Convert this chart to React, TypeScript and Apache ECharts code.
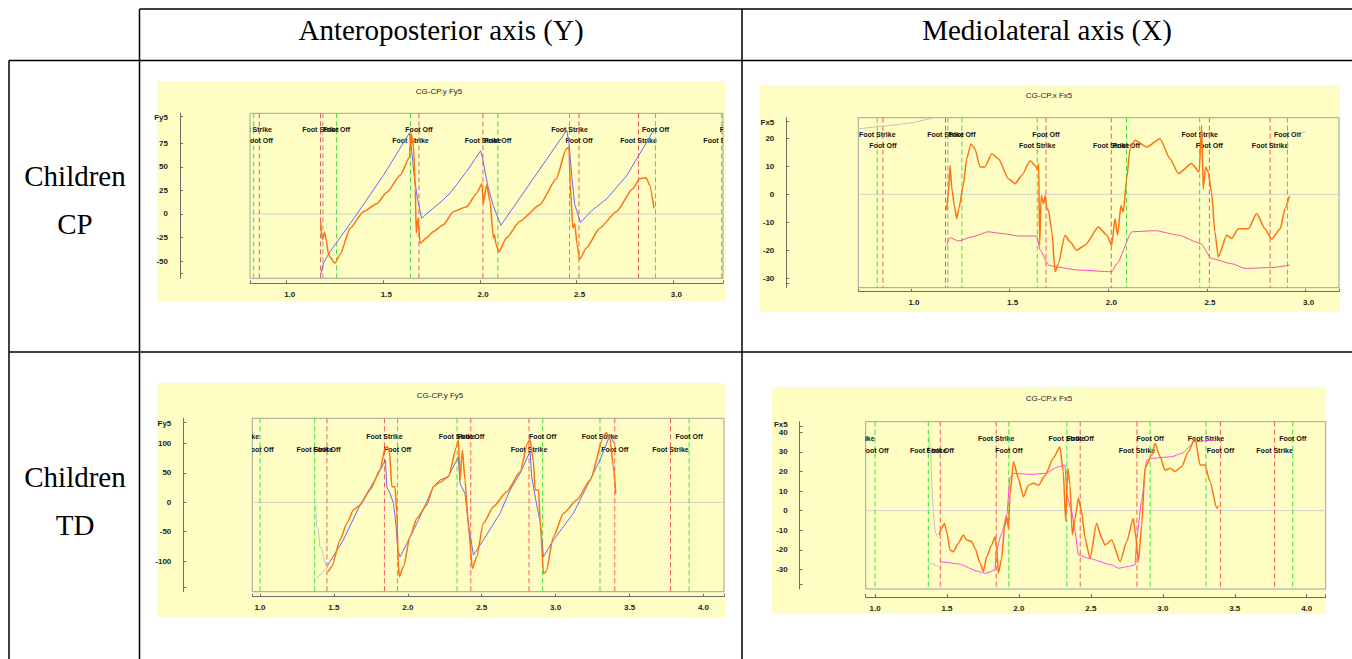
import React, { useEffect, useRef } from "react";
import * as echarts from "echarts";

// ---------- Header texts ----------
const colHeaders = ["Anteroposterior axis (Y)", "Mediolateral axis (X)"];
const rowHeaders = [["Children", "CP"], ["Children", "TD"]];
const panelTitles = ["CG-CP.y Fy5", "CG-CP.x Fx5", "CG-CP.y Fy5", "CG-CP.x Fx5"];
const axisNames = ["Fy5", "Fx5", "Fy5", "Fx5"];

// ---------- Gait events ----------
const cpEventTimes = [0.829, 0.858, 1.175, 1.187, 1.258, 1.64, 1.684, 2.015, 2.092, 2.463, 2.512, 2.82, 2.908, 3.25, 3.31];
const cpEventSides = ["G", "R", "R", "K", "G", "G", "R", "R", "G", "G", "R", "R", "G", "G", "R"];
const cpEventLabels = ["Foot Strike", "Foot Off", "Foot Strike", "", "Foot Off", "Foot Strike", "Foot Off", "Foot Strike", "Foot Off", "Foot Strike", "Foot Off", "Foot Strike", "Foot Off", "Foot Strike", "Foot Off"];
const cpEventRows = [1, 2, 1, 0, 1, 2, 1, 2, 2, 1, 2, 2, 1, 2, 1];

const tdEventTimes = [0.87, 1.0, 1.37, 1.453, 1.842, 1.93, 2.333, 2.426, 2.82, 2.912, 3.3, 3.4, 3.777, 3.903];
const tdEventSides = ["R", "G", "G", "R", "R", "G", "G", "R", "R", "G", "G", "R", "R", "G"];
const tdEventLabels = ["Foot Strike", "Foot Off", "Foot Strike", "Foot Off", "Foot Strike", "Foot Off", "Foot Strike", "Foot Off", "Foot Strike", "Foot Off", "Foot Strike", "Foot Off", "Foot Strike", "Foot Off"];
const tdEventRows = [1, 2, 2, 2, 1, 2, 1, 1, 2, 1, 1, 2, 2, 1];

// ---------- Tick values ----------
const xTicksCP = [1.0, 1.5, 2.0, 2.5, 3.0];
const xTicksTD = [1.0, 1.5, 2.0, 2.5, 3.0, 3.5, 4.0];
const yTicksCPap = [-50, -25, 0, 25, 50, 75];
const yTicksCPml = [-30, -20, -10, 0, 10, 20];
const yTicksTDap = [-100, -50, 0, 50, 100];
const yTicksTDml = [-30, -20, -10, 0, 10, 20, 30, 40];

// ---------- Children CP, anteroposterior ----------
const cpApBlue = [[1.176, -64], [1.19, -52], [1.224, -40], [1.35, -4], [1.5, 41], [1.635, 86], [1.645, 70], [1.66, 40], [1.675, 18], [1.698, -4.5], [1.757, 6], [1.793, 12], [1.845, 22], [1.93, 45], [2.003, 67], [2.012, 60], [2.04, 30], [2.07, 8], [2.108, -12], [2.25, 30], [2.449, 89], [2.46, 75], [2.475, 40], [2.49, 10], [2.52, -9], [2.58, 4], [2.655, 16], [2.76, 41], [2.896, 88]];
const cpApOrange = [[1.176, -8], [1.18, -22], [1.185, -27], [1.19, -24], [1.195, -19], [1.205, -28], [1.215, -42], [1.224, -46], [1.25, -52], [1.276, -43], [1.328, -15], [1.397, 2.5], [1.466, 11], [1.518, 23], [1.587, 41], [1.635, 60], [1.642, 86], [1.656, 72], [1.665, 27], [1.67, -20], [1.679, -4.5], [1.69, -31], [1.725, -25], [1.76, -18.5], [1.81, -11.5], [1.862, 2.5], [1.931, 7.7], [1.983, 22], [2.01, 32], [2.017, 11], [2.034, 31], [2.052, 13], [2.069, -25.5], [2.075, -22], [2.082, -32], [2.098, -40], [2.136, -25.5], [2.205, -8], [2.308, 9.5], [2.394, 37], [2.446, 69], [2.46, 70.7], [2.467, 30], [2.48, -15], [2.49, -10], [2.502, -32.5], [2.515, -48], [2.55, -36], [2.619, -15], [2.705, 2.5], [2.791, 27], [2.826, 37.5], [2.86, 38.5], [2.878, 30.5], [2.9, 6]];

// ---------- Children CP, mediolateral ----------
const cpMlOrange = [[1.181, -5.7], [1.19, 0.8], [1.198, 10.4], [1.207, 2], [1.22, -4], [1.232, -8.7], [1.243, -5], [1.265, 3.2], [1.282, 12.7], [1.304, 18], [1.324, 16.3], [1.35, 9.8], [1.375, 9.8], [1.409, 14.5], [1.443, 12.7], [1.494, 5.6], [1.528, 3.8], [1.562, 6.8], [1.604, 12], [1.63, 10.3], [1.643, 8.6], [1.647, 11], [1.652, -18.2], [1.66, -0.4], [1.672, -3.3], [1.68, -0.4], [1.689, -5], [1.697, -5.7], [1.714, -13.4], [1.73, -27.7], [1.747, -24.8], [1.78, -14.6], [1.806, -17], [1.84, -20], [1.882, -18.2], [1.95, -11.7], [1.992, -14.6], [2.017, -18.2], [2.034, -8.7], [2.047, -14.6], [2.064, -4], [2.076, -6.3], [2.093, 5.6], [2.11, 16.3], [2.135, 19.3], [2.195, 16.9], [2.262, 19.9], [2.313, 12.7], [2.355, 7.4], [2.422, 11], [2.46, 8], [2.473, 24.6], [2.481, 2], [2.493, 9.8], [2.506, 8], [2.523, 0.8], [2.54, -13.4], [2.557, -22.4], [2.6, -14.6], [2.625, -15.8], [2.659, -12.3], [2.71, -12.3], [2.752, -6.9], [2.794, -12.3], [2.828, -16], [2.871, -12.3], [2.896, -5], [2.918, -0.6]];
const cpMlPink = [[1.181, -18.2], [1.198, -15.5], [1.24, -16.7], [1.31, -15.2], [1.39, -13.4], [1.46, -14], [1.544, -14.9], [1.637, -14.9], [1.655, -20], [1.697, -25.3], [1.73, -25.9], [1.848, -27.1], [2.017, -27.7], [2.043, -24.8], [2.12, -13.4], [2.237, -13], [2.355, -14.6], [2.468, -17.6], [2.523, -23], [2.625, -24.8], [2.693, -26.5], [2.828, -26.2], [2.92, -25.3]];
const cpMlGrayA = [[0.733, 23.4], [1.0, 25.5], [1.185, 28.5]];
const cpMlGrayB = [[2.95, 22], [3.0, 22.2]];

// ---------- Children TD, anteroposterior ----------
const tdApBlue = [[1.458, -106.8], [1.564, -64], [1.677, -4.5], [1.79, 43.7], [1.849, 72], [1.858, 26.7], [1.88, 15], [1.903, -1.7], [1.919, -35.8], [1.932, -81], [1.948, -92.6], [1.993, -70], [2.061, -35.8], [2.128, 1], [2.173, 26.7], [2.218, 38], [2.274, 43.7], [2.342, 77.8], [2.353, 32], [2.387, 15], [2.416, -47], [2.444, -89.7], [2.511, -64], [2.624, -18.7], [2.692, 21], [2.76, 49.4], [2.827, 86.3], [2.838, 43.7], [2.872, -4.5], [2.895, -33], [2.918, -92.6], [2.985, -64], [3.12, -18.7], [3.21, 26.7], [3.3, 72], [3.368, 114.7], [3.395, 100.5]];
const tdApOrange = [[1.462, -118], [1.485, -109.6], [1.542, -64], [1.587, -35.8], [1.632, -13], [1.677, -4.5], [1.745, 21], [1.812, 55], [1.846, 92], [1.862, 94.9], [1.876, 86.3], [1.892, 26.7], [1.914, 26.7], [1.925, -16], [1.937, -109.6], [1.943, -126.7], [1.97, -109.6], [2.015, -58.5], [2.061, -27.3], [2.128, -4.5], [2.173, 26.7], [2.218, 34], [2.274, 43.7], [2.331, 94.9], [2.342, 106], [2.353, 38], [2.369, 89], [2.387, 38], [2.41, -41.5], [2.437, -112.5], [2.466, -92.6], [2.511, -35.8], [2.579, -7.4], [2.669, 18], [2.76, 52], [2.81, 100.5], [2.827, 107], [2.85, 69], [2.861, 21], [2.884, 21], [2.895, -30], [2.918, -121], [2.936, -118], [2.985, -58.5], [3.053, -18.7], [3.143, 4], [3.234, 38], [3.324, 112], [3.342, 118.7], [3.368, 109], [3.39, 61], [3.407, 15.3]];
const tdApGrayA = [[1.377, -3], [1.383, -41.5], [1.395, -45], [1.405, -75.5], [1.42, -81], [1.434, -98], [1.446, -107], [1.458, -106.8]];
const tdApGrayB = [[1.383, -129.5], [1.428, -118], [1.458, -110]];

// ---------- Children TD, mediolateral ----------
const tdMlOrange = [[1.445, -12.4], [1.463, -9], [1.482, -6.5], [1.498, -10.7], [1.521, -20], [1.544, -21], [1.579, -16.7], [1.614, -12.4], [1.637, -15], [1.672, -15.8], [1.695, -19.2], [1.73, -26.9], [1.753, -31], [1.776, -23.5], [1.811, -17.5], [1.834, -13.3], [1.846, -19.2], [1.857, -32], [1.88, -24.3], [1.899, -9], [1.915, -3], [1.927, -9], [1.938, 8], [1.962, 25], [1.996, 16.5], [2.031, 7], [2.066, 13], [2.1, 14], [2.135, 13], [2.182, 18], [2.239, 26.7], [2.285, 32.6], [2.308, 20], [2.325, -5.6], [2.339, 21.6], [2.355, 13], [2.371, -12.4], [2.39, -4], [2.413, 6.3], [2.436, -0.5], [2.459, -14], [2.494, -24.3], [2.54, -6.5], [2.575, -14], [2.598, -17.5], [2.645, -15], [2.703, -26], [2.749, -15.8], [2.795, -4], [2.812, -13.3], [2.83, -26], [2.853, -7.3], [2.876, 21.6], [2.923, 28.4], [2.946, 34.3], [2.981, 27.5], [3.015, 20.7], [3.05, 21.6], [3.085, 20], [3.131, 22.5], [3.177, 30], [3.224, 37], [3.259, 23.3], [3.293, 23.3], [3.328, 14.8], [3.375, 1.2], [3.386, 2.5]];
const tdMlPink = [[1.452, -26], [1.486, -26.4], [1.579, -27.2], [1.718, -31], [1.765, -32], [1.834, -30.3], [1.841, -21], [1.88, -11.6], [1.915, -2.2], [1.938, 16.8], [1.962, 19], [2.09, 18.5], [2.181, 19], [2.274, 22.4], [2.32, 23.3], [2.332, 8], [2.367, -0.5], [2.39, -10.7], [2.413, -22.6], [2.483, -24.3], [2.645, -27.7], [2.692, -29.4], [2.761, -28.5], [2.807, -27.7], [2.819, -14], [2.853, 5.4], [2.888, 25.8], [2.923, 26.7], [3.062, 27.5], [3.131, 29.2], [3.224, 35.2], [3.36, 36], [3.386, 36.5]];
const tdMlGrayA = [[1.376, 38.6], [1.387, 30], [1.394, 13], [1.406, -0.5], [1.417, -10.7], [1.44, -14]];
const tdMlGrayB = [[1.371, -27.7], [1.394, -26.9], [1.44, -28.5]];

// ---------- Styles / layout ----------
const BG = "#fefec4";
const C_BLUE = "#6a6af2";
const C_ORANGE = "#ff7212";
const C_PINK_CP = "#f54fa5";
const C_PINK_TD = "#ff44ee";
const C_GRAY = "#c4c4c4";
const C_ZERO = "#d2d2cc";
const SIDE_COLOR: Record<string, string> = { R: "#f25a5a", G: "#3fe03f", K: "#9a9a9a" };
const SMALL_FAMILY = '"Liberation Sans", Arial, sans-serif';
const EVENT_FONT = `bold 7px ${SMALL_FAMILY}`;

type Panel = {
  bg: [number, number, number, number];
  title: [number, number];
  grid: [number, number, number, number];
  xRange: [number, number];
  yRange: [number, number];
  xOffset: number;
  yOffset: number;
  xLabelShift: number;
  xTicks: number[];
  yTicks: number[];
  yEndTicks: [number, number];
  nameGap: number;
  rows: [number, number];
};

const panels: Panel[] = [
  { bg: [157, 81, 568, 220], title: [439, 91], grid: [250, 113.3, 473, 165], xRange: [0.81, 3.257], yRange: [-68.2, 106.8], xOffset: 5, yOffset: 70, xLabelShift: 6, xTicks: xTicksCP, yTicks: yTicksCPap, yEndTicks: [-63, 104], nameGap: -4, rows: [15.7, 27] },
  { bg: [760, 85, 580, 227], title: [1049, 95], grid: [858.3, 117.7, 480.7, 170], xRange: [0.733, 3.169], yRange: [-33.4, 27.4], xOffset: 4, yOffset: 72, xLabelShift: 6, xTicks: xTicksCP, yTicks: yTicksCPml, yEndTicks: [-31.9, 26], nameGap: -5, rows: [16.6, 27.6] },
  { bg: [157, 383, 568, 234], title: [440, 395], grid: [252.3, 418.3, 471.7, 173.4], xRange: [0.948, 4.139], yRange: [-152, 143], xOffset: 5, yOffset: 69, xLabelShift: 0, xTicks: xTicksTD, yTicks: yTicksTDap, yEndTicks: [-143.8, 136], nameGap: -5, rows: [18.4, 30.7] },
  { bg: [772, 387, 554, 227], title: [1049, 398], grid: [865.7, 421.7, 460, 167.3], xRange: [0.935, 4.132], yRange: [-40, 45.4], xOffset: 8, yOffset: 66, xLabelShift: 0, xTicks: xTicksTD, yTicks: yTicksTDml, yEndTicks: [-37.6, 43.2], nameGap: -5, rows: [16.6, 29] },
];

function lineSeries(idx: number, data: number[][], color: string, width: number, z = 4, smooth = 0): any {
  return {
    type: "line",
    xAxisIndex: idx,
    yAxisIndex: idx,
    data,
    showSymbol: false,
    symbol: "none",
    clip: true,
    z,
    smooth,
    smoothMonotone: "x",
    lineStyle: { color, width },
    silent: true,
  };
}

function zeroSeries(idx: number): any {
  const p = panels[idx];
  return lineSeries(idx, [[p.xRange[0], 0], [p.xRange[1], 0]], C_ZERO, 1, 2);
}

function eventSeries(idx: number, times: number[], sides: string[], labels: string[], rows: number[]): any {
  const p = panels[idx];
  return {
    type: "custom",
    xAxisIndex: idx,
    yAxisIndex: idx,
    clip: true,
    silent: true,
    z: 3,
    data: times.map((t) => [t, 0]),
    encode: { x: 0, y: 1 },
    renderItem: (params: any, api: any) => {
      const i = params.dataIndex;
      const cs = params.coordSys;
      const x = api.coord([api.value(0), 0])[0];
      const children: any[] = [
        {
          type: "line",
          shape: { x1: x, y1: cs.y, x2: x, y2: cs.y + cs.height },
          style: { stroke: SIDE_COLOR[sides[i]], lineWidth: 1, lineDash: [5, 3] },
        },
      ];
      const label = labels[i];
      const half = label.length * 1.7;
      const visible = label && x + half > cs.x + 3 && x - half < cs.x + cs.width - 3;
      if (visible) {
        children.push({
          type: "text",
          x,
          y: cs.y + (rows[i] === 1 ? p.rows[0] : p.rows[1]),
          style: {
            text: label,
            font: EVENT_FONT,
            fill: "#141414",
            align: "center",
            verticalAlign: "middle",
            textAlign: "center",
            textVerticalAlign: "middle",
          },
        });
      }
      return { type: "group", children };
    },
  };
}

function buildOption(): any {
  const grids = panels.map((p) => ({
    left: p.grid[0],
    top: p.grid[1],
    width: p.grid[2],
    height: p.grid[3],
    show: true,
    z: 1,
    borderColor: "#a0a0a0",
    borderWidth: 1,
    backgroundColor: "transparent",
    containLabel: false,
  }));

  const xAxes = panels.map((p, i) => ({
    type: "value",
    gridIndex: i,
    min: p.xRange[0],
    max: p.xRange[1],
    position: "bottom",
    offset: p.xOffset,
    splitLine: { show: false },
    axisLine: { show: true, onZero: false, lineStyle: { color: "#6c6c6c", width: 1 } },
    axisTick: { show: true, inside: true, length: 3, lineStyle: { color: "#6c6c6c" }, customValues: [p.xRange[0], ...p.xTicks, p.xRange[1]] },
    axisLabel: {
      customValues: p.xTicks,
      hideOverlap: false,
      formatter: (v: number) => v.toFixed(1),
      fontSize: 8,
      fontWeight: "bold",
      fontFamily: SMALL_FAMILY,
      color: "#1e1e1e",
      margin: 7,
      padding: [0, 0, 0, p.xLabelShift],
    },
  }));

  const yAxes = panels.map((p, i) => ({
    type: "value",
    gridIndex: i,
    min: p.yRange[0],
    max: p.yRange[1],
    position: "left",
    offset: p.yOffset,
    name: axisNames[i],
    nameLocation: "end",
    nameGap: p.nameGap,
    nameTextStyle: {
      fontSize: 8,
      fontWeight: "bold",
      fontFamily: SMALL_FAMILY,
      color: "#1e1e1e",
      align: "right",
      verticalAlign: "middle",
      padding: [0, 12, 0, 0],
    },
    splitLine: { show: false },
    axisLine: { show: true, onZero: false, lineStyle: { color: "#7a6a60", width: 1 } },
    axisTick: { show: true, inside: true, length: 3, lineStyle: { color: "#7a6a60" }, customValues: [p.yEndTicks[0], ...p.yTicks, p.yEndTicks[1]] },
    axisLabel: {
      customValues: p.yTicks,
      hideOverlap: false,
      formatter: (v: number) => String(v),
      fontSize: 8,
      fontWeight: "bold",
      fontFamily: SMALL_FAMILY,
      color: "#1e1e1e",
      margin: 12,
    },
  }));

  const S = 0.2;
  const series: any[] = [
    zeroSeries(0),
    eventSeries(0, cpEventTimes, cpEventSides, cpEventLabels, cpEventRows),
    lineSeries(0, cpApBlue, C_BLUE, 1),
    lineSeries(0, cpApOrange, C_ORANGE, 1.5, 4, S),

    zeroSeries(1),
    eventSeries(1, cpEventTimes, cpEventSides, cpEventLabels, cpEventRows),
    lineSeries(1, cpMlGrayA, C_GRAY, 1),
    lineSeries(1, cpMlGrayB, C_GRAY, 1),
    lineSeries(1, cpMlPink, C_PINK_CP, 1, 4, S),
    lineSeries(1, cpMlOrange, C_ORANGE, 1.5, 4, S),

    zeroSeries(2),
    eventSeries(2, tdEventTimes, tdEventSides, tdEventLabels, tdEventRows),
    lineSeries(2, tdApGrayA, C_GRAY, 1),
    lineSeries(2, tdApGrayB, C_GRAY, 1),
    lineSeries(2, tdApBlue, C_BLUE, 1),
    lineSeries(2, tdApOrange, C_ORANGE, 1.5, 4, S),

    zeroSeries(3),
    eventSeries(3, tdEventTimes, tdEventSides, tdEventLabels, tdEventRows),
    lineSeries(3, tdMlGrayA, C_GRAY, 1),
    lineSeries(3, tdMlGrayB, C_GRAY, 1),
    lineSeries(3, tdMlPink, C_PINK_TD, 1, 4, S),
    lineSeries(3, tdMlOrange, C_ORANGE, 1.5, 4, S),
  ];

  const serif = '"Liberation Serif", "Times New Roman", serif';
  const graphics: any[] = [];
  panels.forEach((p) => {
    graphics.push({ type: "rect", z: -1, silent: true, shape: { x: p.bg[0], y: p.bg[1], width: p.bg[2], height: p.bg[3] }, style: { fill: BG } });
  });
  panels.forEach((p, i) => {
    graphics.push({ type: "text", z: 5, silent: true, x: p.title[0], y: p.title[1], style: { text: panelTitles[i], font: `8px ${SMALL_FAMILY}`, fill: "#222", align: "center", verticalAlign: "middle", textAlign: "center", textVerticalAlign: "middle" } });
  });
  const rule = (x1: number, y1: number, x2: number, y2: number) => ({ type: "line", z: 6, silent: true, shape: { x1, y1, x2, y2 }, style: { stroke: "#000", lineWidth: 1.5 } });
  graphics.push(rule(139.5, 9, 1352, 9));
  graphics.push(rule(9, 60.5, 1352, 60.5));
  graphics.push(rule(9, 352, 1352, 352));
  graphics.push(rule(9, 60.5, 9, 659));
  graphics.push(rule(139.5, 9, 139.5, 659));
  graphics.push(rule(742, 9, 742, 659));
  const headText = (text: string, x: number, y: number) => ({ type: "text", z: 6, silent: true, x, y, style: { text, font: `29px ${serif}`, fill: "#000", align: "center", verticalAlign: "middle", textAlign: "center", textVerticalAlign: "middle" } });
  graphics.push(headText(colHeaders[0], 441, 30));
  graphics.push(headText(colHeaders[1], 1047, 30));
  graphics.push(headText(rowHeaders[0][0], 75, 176));
  graphics.push(headText(rowHeaders[0][1], 75, 224));
  graphics.push(headText(rowHeaders[1][0], 75, 477));
  graphics.push(headText(rowHeaders[1][1], 75, 525));

  return {
    animation: false,
    backgroundColor: "#ffffff",
    grid: grids,
    xAxis: xAxes,
    yAxis: yAxes,
    series,
    graphic: { elements: graphics },
  };
}

export default function App() {
  const ref = useRef<HTMLDivElement>(null);
  useEffect(() => {
    if (!ref.current) return;
    const chart = echarts.init(ref.current, undefined, { renderer: "svg" });
    chart.setOption(buildOption());
    return () => chart.dispose();
  }, []);
  return <div ref={ref} style={{ position: "absolute", left: 0, top: 0, width: 1352, height: 659 }} />;
}
